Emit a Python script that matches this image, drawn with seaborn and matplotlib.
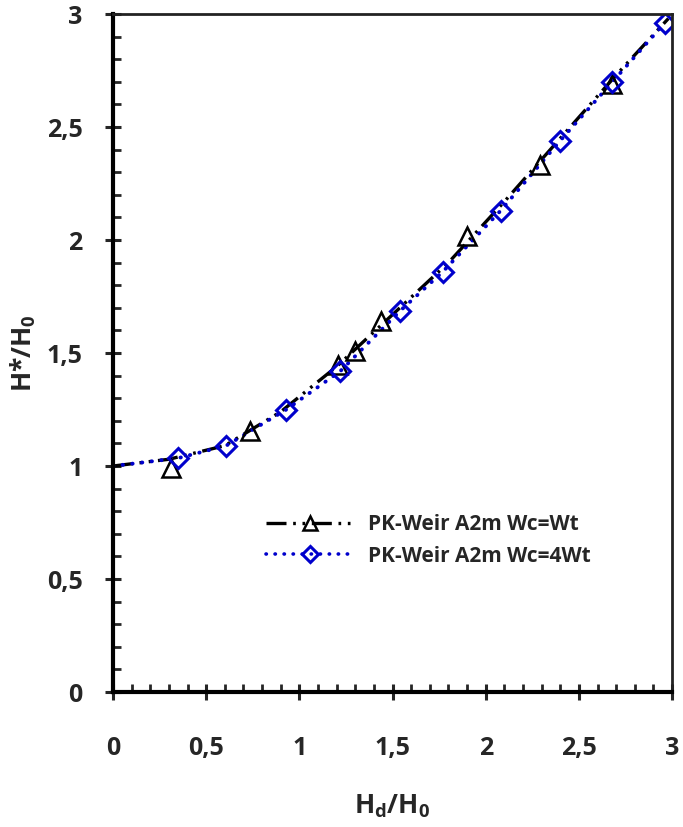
import numpy as np
import pandas as pd
import matplotlib
matplotlib.use("Agg")
import matplotlib.pyplot as plt
import seaborn as sns
from matplotlib.lines import Line2D
from matplotlib.ticker import MultipleLocator, FuncFormatter

# measured points
tri_x = [0.31, 0.735, 1.21, 1.30, 1.44, 1.90, 2.29, 2.68]
tri_y = [0.99, 1.155, 1.447, 1.51, 1.64, 2.02, 2.33, 2.69]
dia_x = [0.35, 0.607, 0.93, 1.22, 1.54, 1.77, 2.08, 2.40, 2.68, 2.96]
dia_y = [1.035, 1.09, 1.25, 1.42, 1.686, 1.86, 2.13, 2.44, 2.70, 2.96]

# curves
blk_x = [0.0, 0.3, 0.6, 0.9, 1.2, 1.5, 1.8, 2.1, 2.4, 2.7, 2.98]
blk_y = [1.0, 1.03, 1.09, 1.24, 1.44, 1.67, 1.90, 2.17, 2.45, 2.73, 2.98]
blu_x = [0.0, 0.35, 0.607, 0.93, 1.22, 1.54, 1.77, 2.08, 2.40, 2.68, 2.96]
blu_y = [1.0, 1.035, 1.09, 1.25, 1.42, 1.686, 1.86, 2.13, 2.44, 2.70, 2.96]

lab1 = "PK-Weir A2m Wc=Wt"
lab2 = "PK-Weir A2m Wc=4Wt"

sns.set_style("ticks")
plt.rcParams['font.family'] = ['Open Sans', 'DejaVu Sans']
plt.rcParams['font.weight'] = 'bold'

fig = plt.figure(figsize=(6.83, 8.27), dpi=100)
ax = fig.add_axes([0.1654, 0.1632, 0.8186, 0.8198])

blk_dash = (6, 2, 0.8, 2, 0.8, 2)
blu_dash = (0.1, 2.4)
sns.lineplot(x=blk_x, y=blk_y, ax=ax, color="black", lw=2.4, sort=False)
ax.lines[-1].set_dashes(blk_dash)
sns.lineplot(x=blu_x, y=blu_y, ax=ax, color="#0000CC", lw=2.8, sort=False)
ax.lines[-1].set_dashes(blu_dash)
ax.lines[-1].set_dash_capstyle("round")

ax.plot(tri_x, tri_y, ls="none", marker="^", ms=13, mfc="none", mec="black", mew=1.8)
ax.plot(dia_x, dia_y, ls="none", marker="D", ms=10, mfc="none", mec="#0000CC", mew=2.2)

ax.set_xlim(0, 3)
ax.set_ylim(0, 3)
ax.xaxis.set_major_locator(MultipleLocator(0.5))
ax.yaxis.set_major_locator(MultipleLocator(0.5))
ax.xaxis.set_minor_locator(MultipleLocator(0.1))
ax.yaxis.set_minor_locator(MultipleLocator(0.1))
fmt = FuncFormatter(lambda v, p: ("%g" % v).replace(".", ","))
ax.xaxis.set_major_formatter(fmt)
ax.yaxis.set_major_formatter(fmt)
ax.tick_params(which="major", direction="inout", length=12, width=2.2, labelsize=18)
ax.tick_params(axis="x", which="major", pad=26)
ax.tick_params(axis="y", which="major", pad=16)
ax.tick_params(which="minor", direction="in", length=6, width=2.0)
for lbl in ax.get_xticklabels() + ax.get_yticklabels():
    lbl.set_fontweight("bold")

for s in ["left", "bottom"]:
    ax.spines[s].set_linewidth(3)
    ax.spines[s].set_color("black")
for s in ["top", "right"]:
    ax.spines[s].set_visible(True)
    ax.spines[s].set_linewidth(2)
    ax.spines[s].set_color("#222222")

ax.set_xlabel(r"H$_\mathregular{d}$/H$_\mathregular{0}$", fontsize=19, fontweight="bold", labelpad=22)
ax.set_ylabel(r"H*/H$_\mathregular{0}$", fontsize=19, fontweight="bold", labelpad=6)

handles = [
    Line2D([], [], color="black", lw=2.4, dashes=blk_dash, marker="^", ms=10,
           mfc="none", mec="black", mew=1.8),
    Line2D([], [], color="#0000CC", lw=2.6, dashes=blu_dash, dash_capstyle="round",
           marker="D", ms=8, mfc="none", mec="#0000CC", mew=2.2),
]
ax.legend(handles, [lab1, lab2], loc="upper left", bbox_to_anchor=(0.24, 0.29),
          frameon=False, handlelength=4.2, handletextpad=0.7,
          prop={"weight": "bold", "size": 15}, labelspacing=0.5)

fig.savefig("out.png", dpi=100)
